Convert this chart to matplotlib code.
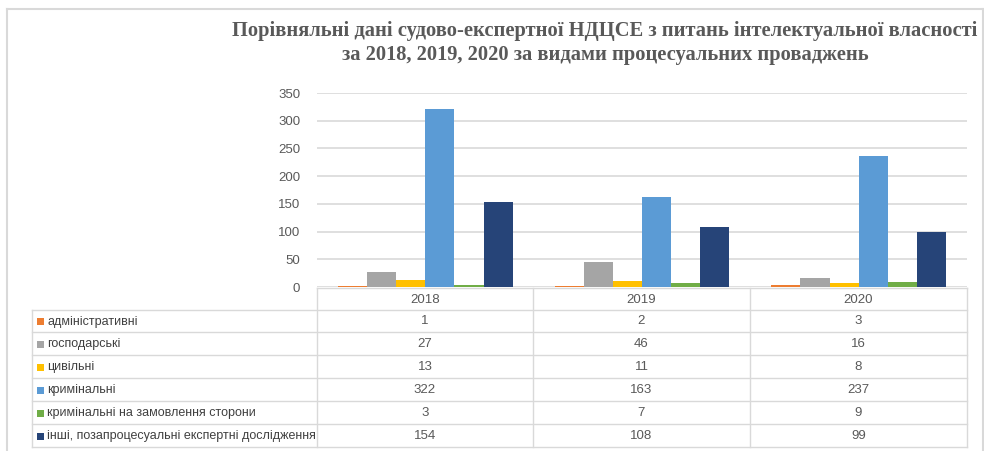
import matplotlib.pyplot as plt
import matplotlib.lines
import matplotlib.patches
import numpy as np

years = ['2018', '2019', '2020']
series_names = [
    'адміністративні',
    'господарські',
    'цивільні',
    'кримінальні',
    'кримінальні на замовлення сторони',
    'інші, позапроцесуальні експертні дослідження',
]
administrative = [1, 2, 3]
commercial = [27, 46, 16]
civil = [13, 11, 8]
criminal = [322, 163, 237]
criminal_party = [3, 7, 9]
other = [154, 108, 99]
y_ticks = [0, 50, 100, 150, 200, 250, 300, 350]

title = ('Порівняльні дані судово-експертної НДЦСЕ з питань інтелектуальної власності\n'
         'за 2018, 2019, 2020 за видами процесуальних проваджень')

colors = ['#ED7D31', '#A5A5A5', '#FFC000', '#5B9BD5', '#70AD47', '#264478']
grid_color = '#D9D9D9'
text_color = '#595959'
sans = ['Liberation Sans', 'DejaVu Sans']

W, H = 984, 451


def fx(x):
    return x / W


def fy(y):
    return 1 - y / H


def hline(fig, x0, x1, y, color=grid_color, lw=1.0):
    fig.add_artist(matplotlib.lines.Line2D(
        [fx(x0), fx(x1)], [fy(y), fy(y)], color=color, linewidth=lw, transform=fig.transFigure))


def vline(fig, x, y0, y1, color=grid_color, lw=1.0):
    fig.add_artist(matplotlib.lines.Line2D(
        [fx(x), fx(x)], [fy(y0), fy(y1)], color=color, linewidth=lw, transform=fig.transFigure))


def main():
    values = [administrative, commercial, civil, criminal, criminal_party, other]

    fig = plt.figure(figsize=(W / 100, H / 100), dpi=100)

    # plot area in pixels
    left, right, top, bottom = 317, 967, 93, 287
    ax = fig.add_axes([fx(left), fy(bottom), fx(right) - fx(left), (bottom - top) / H])

    n = len(values)
    bar_w = 29 / 216
    x = np.arange(len(years))
    for i, (vals, c) in enumerate(zip(values, colors)):
        offs = (i - (n - 1) / 2) * bar_w
        ax.bar(x + offs, vals, width=bar_w, color=c, zorder=3)

    ax.set_xlim(-0.5, len(years) - 0.5)
    ax.set_ylim(0, 350)
    ax.set_yticks(y_ticks)
    ax.set_xticks([])
    ax.yaxis.grid(True, color=grid_color, linewidth=1.2, zorder=0)
    for s in ax.spines.values():
        s.set_visible(False)
    ax.tick_params(axis='y', length=0, pad=12, labelcolor=text_color, labelsize=9.5)
    for lab in ax.get_yticklabels():
        lab.set_family(sans)

    # outer frame
    hline(fig, 7, 983, 9, lw=1.5)
    vline(fig, 7, 9, 451, lw=1.5)
    vline(fig, 983, 9, 451, lw=1.5)

    # title
    fig.text(fx(605), fy(43), title, ha='center', va='center', fontsize=14.8,
             fontweight='bold', family=['Liberation Serif', 'DejaVu Serif'],
             color=text_color, linespacing=1.3)

    # data table
    col_edges = [317, 533, 750, 967]
    row_edges = [310, 332, 355, 378, 401, 424, 447]
    table_left = 32

    hline(fig, col_edges[0], col_edges[-1], 288)
    for y in row_edges:
        hline(fig, table_left, col_edges[-1], y)
    vline(fig, table_left, row_edges[0], row_edges[-1])
    for xe in col_edges:
        vline(fig, xe, 288, row_edges[-1])

    for j, yr in enumerate(years):
        xc = (col_edges[j] + col_edges[j + 1]) / 2
        fig.text(fx(xc), fy(300), yr, ha='center', va='center', fontsize=9.5,
                 family=sans, color=text_color)

    for i, (name, vals, c) in enumerate(zip(series_names, values, colors)):
        yc = (row_edges[i] + row_edges[i + 1]) / 2 + 0.5
        fig.add_artist(matplotlib.patches.Rectangle(
            (fx(37), fy(yc + 3.5)), 7 / W, 7 / H, facecolor=c, edgecolor='none',
            transform=fig.transFigure))
        fig.text(fx(47), fy(yc), name, ha='left', va='center', fontsize=9,
                 family=sans, color='#404040')
        for j, v in enumerate(vals):
            xc = (col_edges[j] + col_edges[j + 1]) / 2
            fig.text(fx(xc), fy(yc), str(v), ha='center', va='center', fontsize=9.5,
                     family=sans, color=text_color)

    fig.savefig('out.png', dpi=100)


if __name__ == '__main__':
    main()
